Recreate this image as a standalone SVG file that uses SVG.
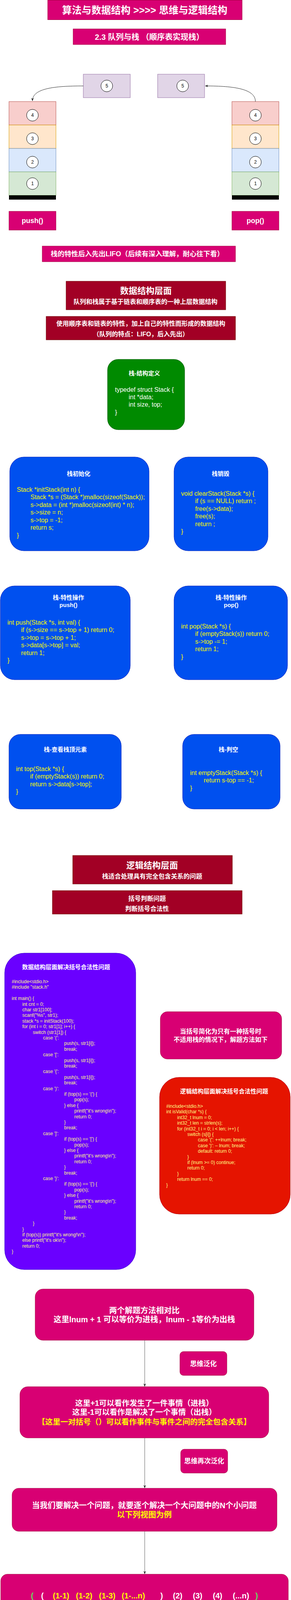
<svg xmlns="http://www.w3.org/2000/svg" width="744" height="4382" viewBox="0 0 744 4382">
<defs>
<marker id="arr" viewBox="0 0 10 10" refX="9" refY="5" markerWidth="8" markerHeight="8" markerUnits="userSpaceOnUse" orient="auto">
<path d="M0,1 L10,5 L0,9 L3,5 Z" fill="#222"/>
</marker>
<style>
text{font-family:"Liberation Sans","Noto Sans CJK SC",sans-serif;dominant-baseline:central}
.w{fill:#fff;font-weight:bold}
.c{text-anchor:middle}
.pink{fill:#D80073;stroke:#A50040;stroke-width:1}
.dred{fill:#A20025;stroke:#6F0000;stroke-width:1}
.green{fill:#008A00;stroke:#005700}
.blue{fill:#0050EF;stroke:#001DBC}
.purp{fill:#6A00FF;stroke:#3700CC}
.red{fill:#E51400;stroke:#B20000}
.lav{fill:#E1D5E7;stroke:#9673A6}
.circ{fill:#fff;stroke:#000}
.num{font-size:12px;fill:#000;text-anchor:middle}
.code{font-size:16px;fill:#FFFF00}
.codew{font-size:16px;fill:#fff}
.code12{font-size:12px;fill:#FFFF88}
.ttl{font-size:15px;fill:#fff;font-weight:bold;text-anchor:middle}
.yel{fill:#FFFF00;font-weight:bold}
.conn{fill:none;stroke:#222;stroke-width:1}
.connv{fill:none;stroke:#808080;stroke-width:1.3}
</style>
</defs>

<g id="title">
<rect class="pink" x="122" y="0.5" width="497" height="50"/>
<text class="w c" x="370" y="26" font-size="25">算法与数据结构  &gt;&gt;&gt;&gt;  思维与逻辑结构</text>
</g>
<g id="subtitle">
<rect class="pink" x="187" y="74" width="390" height="40"/>
<text class="w c" x="382" y="95" font-size="20">2.3 队列与栈 （顺序表实现栈）</text>
</g>

<g id="pushItem">
<rect class="lav" x="213" y="190" width="120" height="60"/>
<ellipse class="circ" cx="273" cy="220" rx="15" ry="15"/>
<text class="num" x="273" y="220">5</text>
</g>
<g id="popItem">
<rect class="lav" x="403" y="190" width="120" height="60"/>
<ellipse class="circ" cx="467" cy="220" rx="15" ry="15"/>
<text class="num" x="467" y="220">5</text>
</g>

<g id="stackLeft">
<rect x="23" y="260" width="120" height="60" fill="#F8CECC" stroke="#B85450"/>
<rect x="23" y="320" width="120" height="60" fill="#FFE6CC" stroke="#D79B00"/>
<rect x="23" y="380" width="120" height="60" fill="#DAE8FC" stroke="#6C8EBF"/>
<rect x="23" y="440" width="120" height="60" fill="#D5E8D4" stroke="#82B366"/>
<rect x="23" y="500" width="120" height="11" fill="#000"/>
<ellipse class="circ" cx="83" cy="295" rx="15" ry="15"/><text class="num" x="83" y="295">4</text>
<ellipse class="circ" cx="83" cy="355" rx="15" ry="15"/><text class="num" x="83" y="355">3</text>
<ellipse class="circ" cx="83" cy="415" rx="15" ry="15"/><text class="num" x="83" y="415">2</text>
<ellipse class="circ" cx="83" cy="470" rx="15" ry="15"/><text class="num" x="83" y="470">1</text>
</g>
<g id="stackRight">
<rect x="593" y="260" width="120" height="60" fill="#F8CECC" stroke="#B85450"/>
<rect x="593" y="320" width="120" height="60" fill="#FFE6CC" stroke="#D79B00"/>
<rect x="593" y="380" width="120" height="60" fill="#DAE8FC" stroke="#6C8EBF"/>
<rect x="593" y="440" width="120" height="60" fill="#D5E8D4" stroke="#82B366"/>
<rect x="593" y="500" width="120" height="11" fill="#000"/>
<ellipse class="circ" cx="653" cy="295" rx="15" ry="15"/><text class="num" x="653" y="295">4</text>
<ellipse class="circ" cx="653" cy="355" rx="15" ry="15"/><text class="num" x="653" y="355">3</text>
<ellipse class="circ" cx="653" cy="415" rx="15" ry="15"/><text class="num" x="653" y="415">2</text>
<ellipse class="circ" cx="653" cy="470" rx="15" ry="15"/><text class="num" x="653" y="470">1</text>
</g>

<g id="pushLabel">
<rect class="pink" x="23" y="541" width="120" height="48"/>
<text class="w c" x="83" y="565" font-size="18">push()</text>
</g>
<g id="popLabel">
<rect class="pink" x="593" y="541" width="120" height="48"/>
<text class="w c" x="653" y="565" font-size="18">pop()</text>
</g>

<g id="lifo">
<rect class="pink" x="108" y="630" width="494" height="40"/>
<text class="w c" x="351" y="650" font-size="17.5">栈的特性后入先出LIFO（后续有深入理解，耐心往下看）</text>
</g>

<g id="dsLevel">
<rect class="dred" x="169" y="720" width="408" height="73"/>
<text class="w c" x="373" y="744" font-size="22">数据结构层面</text>
<text class="w c" x="372" y="772" font-size="16">队列和栈属于基于链表和顺序表的一种上层数据结构</text>
</g>
<g id="dsDesc">
<rect class="dred" x="118" y="810" width="484" height="60"/>
<text class="w c" x="360" y="828" font-size="16">使用顺序表和链表的特性，加上自己的特性而形成的数据结构</text>
<text class="w c" x="360" y="855" font-size="16">（队列的特点：LIFO，后入先出）</text>
</g>

<g id="structDef">
<rect class="green" x="275" y="920" width="197" height="180" rx="27"/>
<text class="ttl" x="369" y="955">栈-结构定义</text>
<text class="codew" x="294" y="997">typedef struct Stack {</text>
<text class="codew" x="329" y="1016">int *data;</text>
<text class="codew" x="329" y="1035.5">int size, top;</text>
<text class="codew" x="294" y="1055">}</text>
</g>

<g id="initStack">
<rect class="blue" x="25" y="1170" width="356" height="240" rx="36"/>
<text class="ttl" x="201" y="1212">栈初始化</text>
<text class="code" x="43" y="1253">Stack *initStack(int n) {</text>
<text class="code" x="78" y="1272.5">Stack *s = (Stack *)malloc(sizeof(Stack));</text>
<text class="code" x="78" y="1292">s-&gt;data = (int *)malloc(sizeof(int) * n);</text>
<text class="code" x="78" y="1311.5">s-&gt;size = n;</text>
<text class="code" x="78" y="1331">s-&gt;top = -1;</text>
<text class="code" x="78" y="1350.5">return s;</text>
<text class="code" x="43" y="1370">}</text>
</g>

<g id="clearStack">
<rect class="blue" x="445" y="1170" width="240" height="240" rx="36"/>
<text class="ttl" x="564" y="1212">栈销毁</text>
<text class="code" x="463" y="1263">void clearStack(Stack *s) {</text>
<text class="code" x="499" y="1282.5">if (s == NULL) return ;</text>
<text class="code" x="499" y="1302">free(s-&gt;data);</text>
<text class="code" x="499" y="1321.5">free(s);</text>
<text class="code" x="499" y="1341">return ;</text>
<text class="code" x="463" y="1360.5">}</text>
</g>

<g id="pushOp">
<rect class="blue" x="1" y="1500" width="332" height="240" rx="36"/>
<text class="ttl" x="175" y="1529">栈-特性操作</text>
<text class="ttl" x="175" y="1548">push()</text>
<text class="code" x="19" y="1593">int push(Stack *s, int val) {</text>
<text class="code" x="54" y="1612.5">if (s-&gt;size == s-&gt;top + 1) return 0;</text>
<text class="code" x="54" y="1632">s-&gt;top = s-&gt;top + 1;</text>
<text class="code" x="54" y="1651.5">s-&gt;data[s-&gt;top] = val;</text>
<text class="code" x="54" y="1671">return 1;</text>
<text class="code" x="19" y="1690.5">}</text>
</g>

<g id="popOp">
<rect class="blue" x="445" y="1500" width="290" height="240" rx="36"/>
<text class="ttl" x="591" y="1529">栈-特性操作</text>
<text class="ttl" x="591" y="1548">pop()</text>
<text class="code" x="463" y="1603">int pop(Stack *s) {</text>
<text class="code" x="499" y="1622.5">if (emptyStack(s)) return 0;</text>
<text class="code" x="499" y="1642">s-&gt;top -= 1;</text>
<text class="code" x="499" y="1661.5">return 1;</text>
<text class="code" x="463" y="1681">}</text>
</g>

<g id="topOp">
<rect class="blue" x="23" y="1880" width="287" height="191" rx="29"/>
<text class="ttl" x="167" y="1918">栈-查看栈顶元素</text>
<text class="code" x="41" y="1968">int top(Stack *s) {</text>
<text class="code" x="77" y="1987.5">if (emptyStack(s)) return 0;</text>
<text class="code" x="77" y="2007">return s-&gt;data[s-&gt;top];</text>
<text class="code" x="41" y="2026.5">}</text>
</g>

<g id="emptyOp">
<rect class="blue" x="467" y="1880" width="249" height="191" rx="29"/>
<text class="ttl" x="584" y="1918">栈-判空</text>
<text class="code" x="486" y="1978">int emptyStack(Stack *s) {</text>
<text class="code" x="521" y="1997.5">return s-top == -1;</text>
<text class="code" x="486" y="2017">}</text>
</g>

<g id="logicLevel">
<rect class="dred" x="186" y="2190" width="408" height="73"/>
<text class="w c" x="389" y="2215" font-size="22">逻辑结构层面</text>
<text class="w c" x="389" y="2243" font-size="16">栈适合处理具有完全包含关系的问题</text>
</g>
<g id="bracketProblem">
<rect class="dred" x="134" y="2280" width="485" height="60"/>
<text class="w c" x="376" y="2300" font-size="16">括号判断问题</text>
<text class="w c" x="376" y="2326" font-size="16">判断括号合法性</text>
</g>

<g id="dsSolution">
<rect class="purp" x="12" y="2440" width="335" height="810" rx="50"/>
<text class="ttl" x="169" y="2475">数据结构层面解决括号合法性问题</text>
<text class="code12" x="30" y="2513">#include&lt;stdio.h&gt;</text>
<text class="code12" x="30" y="2527.4">#include "stack.h"</text>
<text class="code12" x="30" y="2556.2">int main() {</text>
<text class="code12" x="57" y="2570.6">int cnt = 0;</text>
<text class="code12" x="57" y="2585">char str1[100];</text>
<text class="code12" x="57" y="2599.4">scanf("%s", str1);</text>
<text class="code12" x="57" y="2613.8">stack *s = initStack(100);</text>
<text class="code12" x="57" y="2628.2">for (int i = 0; str1[1]; i++) {</text>
<text class="code12" x="84" y="2642.6">switch (str1[1]) {</text>
<text class="code12" x="110" y="2657">case '(':</text>
<text class="code12" x="164" y="2671.4">push(s, str1[i]);</text>
<text class="code12" x="164" y="2685.8">break;</text>
<text class="code12" x="110" y="2700.2">case '[':</text>
<text class="code12" x="164" y="2714.6">push(s, str1[i]);</text>
<text class="code12" x="164" y="2729">break;</text>
<text class="code12" x="110" y="2743.4">case '{':</text>
<text class="code12" x="164" y="2757.8">push(s, str1[i]);</text>
<text class="code12" x="164" y="2772.2">break;</text>
<text class="code12" x="110" y="2786.6">case ')':</text>
<text class="code12" x="164" y="2801">if (top(s) == '(') {</text>
<text class="code12" x="190" y="2815.4">pop(s);</text>
<text class="code12" x="164" y="2829.8">} else {</text>
<text class="code12" x="190" y="2844.2">printf("it's wrong\n");</text>
<text class="code12" x="190" y="2858.6">return 0;</text>
<text class="code12" x="164" y="2873">}</text>
<text class="code12" x="164" y="2887.4">break;</text>
<text class="code12" x="110" y="2901.8">case ']':</text>
<text class="code12" x="164" y="2916.2">if (top(s) == '[') {</text>
<text class="code12" x="190" y="2930.6">pop(s);</text>
<text class="code12" x="164" y="2945">} else {</text>
<text class="code12" x="190" y="2959.4">printf("it's wrong\n");</text>
<text class="code12" x="190" y="2973.8">return 0;</text>
<text class="code12" x="164" y="2988.2">}</text>
<text class="code12" x="164" y="3002.6">break;</text>
<text class="code12" x="110" y="3017">case '}':</text>
<text class="code12" x="164" y="3031.4">if (top(s) == '{') {</text>
<text class="code12" x="190" y="3045.8">pop(s);</text>
<text class="code12" x="164" y="3060.2">} else {</text>
<text class="code12" x="190" y="3074.6">printf("it's wrong\n");</text>
<text class="code12" x="190" y="3089">return 0;</text>
<text class="code12" x="164" y="3103.4">}</text>
<text class="code12" x="164" y="3117.8">break;</text>
<text class="code12" x="84" y="3132.2">}</text>
<text class="code12" x="57" y="3146.6">}</text>
<text class="code12" x="57" y="3161">if (top(s)) printf("it's wrong!\n");</text>
<text class="code12" x="57" y="3175.4">else printf("it's ok\n");</text>
<text class="code12" x="57" y="3189.8">return 0;</text>
<text class="code12" x="30" y="3204.2">}</text>
</g>

<g id="simplified">
<rect class="pink" x="410" y="2590" width="310" height="121" rx="18"/>
<text class="w c" x="564" y="2640" font-size="16">当括号简化为只有一种括号时</text>
<text class="w c" x="564" y="2661" font-size="16">不适用栈的情况下，解题方法如下</text>
</g>

<g id="logicSolution">
<rect class="red" x="408" y="2758" width="334" height="350" rx="50"/>
<text class="ttl" x="573" y="2793">逻辑结构层面解决括号合法性问题</text>
<text class="code12" x="425" y="2832">#include&lt;stdio.h&gt;</text>
<text class="code12" x="425" y="2846.4">int isValid(char *s) {</text>
<text class="code12" x="453" y="2860.8">int32_t lnum = 0;</text>
<text class="code12" x="453" y="2875.2">int32_t len = strlen(s);</text>
<text class="code12" x="453" y="2889.6">for (int32_t i = 0; i &lt; len; i++) {</text>
<text class="code12" x="479" y="2904">switch (s[i]) {</text>
<text class="code12" x="506" y="2918.4">case '(': ++lnum; break;</text>
<text class="code12" x="506" y="2932.8">case ')': – lnum; break;</text>
<text class="code12" x="506" y="2947.2">default: return 0;</text>
<text class="code12" x="479" y="2961.6">}</text>
<text class="code12" x="479" y="2976">if (lnum &gt;= 0) continue;</text>
<text class="code12" x="479" y="2990.4">return 0;</text>
<text class="code12" x="453" y="3004.8">}</text>
<text class="code12" x="453" y="3019.2">return lnum == 0;</text>
<text class="code12" x="425" y="3033.6">}</text>
</g>

<g id="compare">
<rect class="pink" x="90" y="3300" width="559" height="131" rx="20"/>
<text class="w c" x="369" y="3355" font-size="20">两个解题方法相对比</text>
<text class="w c" x="369" y="3378" font-size="20">这里lnum + 1 可以等价为进栈，lnum - 1等价为出栈</text>
</g>
<g id="generalize1">
<rect class="pink" x="460" y="3460" width="120" height="61" rx="9"/>
<text class="w c" x="520" y="3491" font-size="17">思维泛化</text>
</g>
<g id="events">
<rect class="pink" x="51" y="3550" width="636" height="131" rx="20"/>
<text class="w c" x="369" y="3592" font-size="19.5">这里+1可以看作发生了一件事情（进栈）</text>
<text class="w c" x="369" y="3615" font-size="19.5">这里-1可以看作是解决了一个事情（出栈）</text>
<text class="yel c" x="369" y="3640" font-size="19.5">【这里一对括号（）可以看作事件与事件之间的完全包含关系】</text>
</g>
<g id="generalize2">
<rect class="pink" x="462" y="3710" width="120" height="61" rx="9"/>
<text class="w c" x="522" y="3740" font-size="17">思维再次泛化</text>
</g>
<g id="subproblems">
<rect class="pink" x="31" y="3810" width="677" height="110" rx="17"/>
<text class="w c" x="369" y="3854" font-size="20">当我们要解决一个问题，就要逐个解决一个大问题中的N个小问题</text>
<text class="yel c" x="369" y="3878" font-size="20">以下列视图为例</text>
</g>
<g id="bracketView">
<rect class="pink" x="2" y="4030" width="735" height="110" rx="17"/>
<g font-size="20" font-weight="bold">
<text x="79" y="4085" fill="#5FE35F">(</text>
<text x="105" y="4085" fill="#fff">(</text>
<text x="135" y="4085" fill="#FFFF00">(1-1)</text>
<text x="194" y="4085" fill="#FFFF00">(1-2)</text>
<text x="253" y="4085" fill="#FFFF00">(1-3)</text>
<text x="311" y="4085" fill="#FFFF00">(1-...n)</text>
<text x="410" y="4085" fill="#fff">)</text>
<text x="442" y="4085" fill="#fff">(2)</text>
<text x="493" y="4085" fill="#fff">(3)</text>
<text x="544" y="4085" fill="#fff">(4)</text>
<text x="595" y="4085" fill="#fff">(...n)</text>
<text x="653" y="4085" fill="#5FE35F">)</text>
</g>
</g>
<g id="summary">
<rect class="pink" x="90" y="4250" width="559" height="129" rx="19"/>
<text class="yel c" x="369" y="4302" font-size="24">总结起来</text>
<text class="yel c" x="369" y="4332" font-size="24">栈合适处理具有完全包含关系的问题</text>
</g>

<g id="connectors">
<path class="conn" d="M213 220 C140 220 83 226 83 258" marker-end="url(#arr)"/>
<path class="conn" d="M653 260 C653 228 600 220 525 220" marker-end="url(#arr)"/>
<path class="connv" d="M370 3431 L370 3549" marker-end="url(#arr)"/>
<path class="connv" d="M370 3681 L370 3809" marker-end="url(#arr)"/>
<path class="connv" d="M370 3920 L370 4029" marker-end="url(#arr)"/>
<path class="connv" d="M370 4140 L370 4249" marker-end="url(#arr)"/>
</g>
</svg>
